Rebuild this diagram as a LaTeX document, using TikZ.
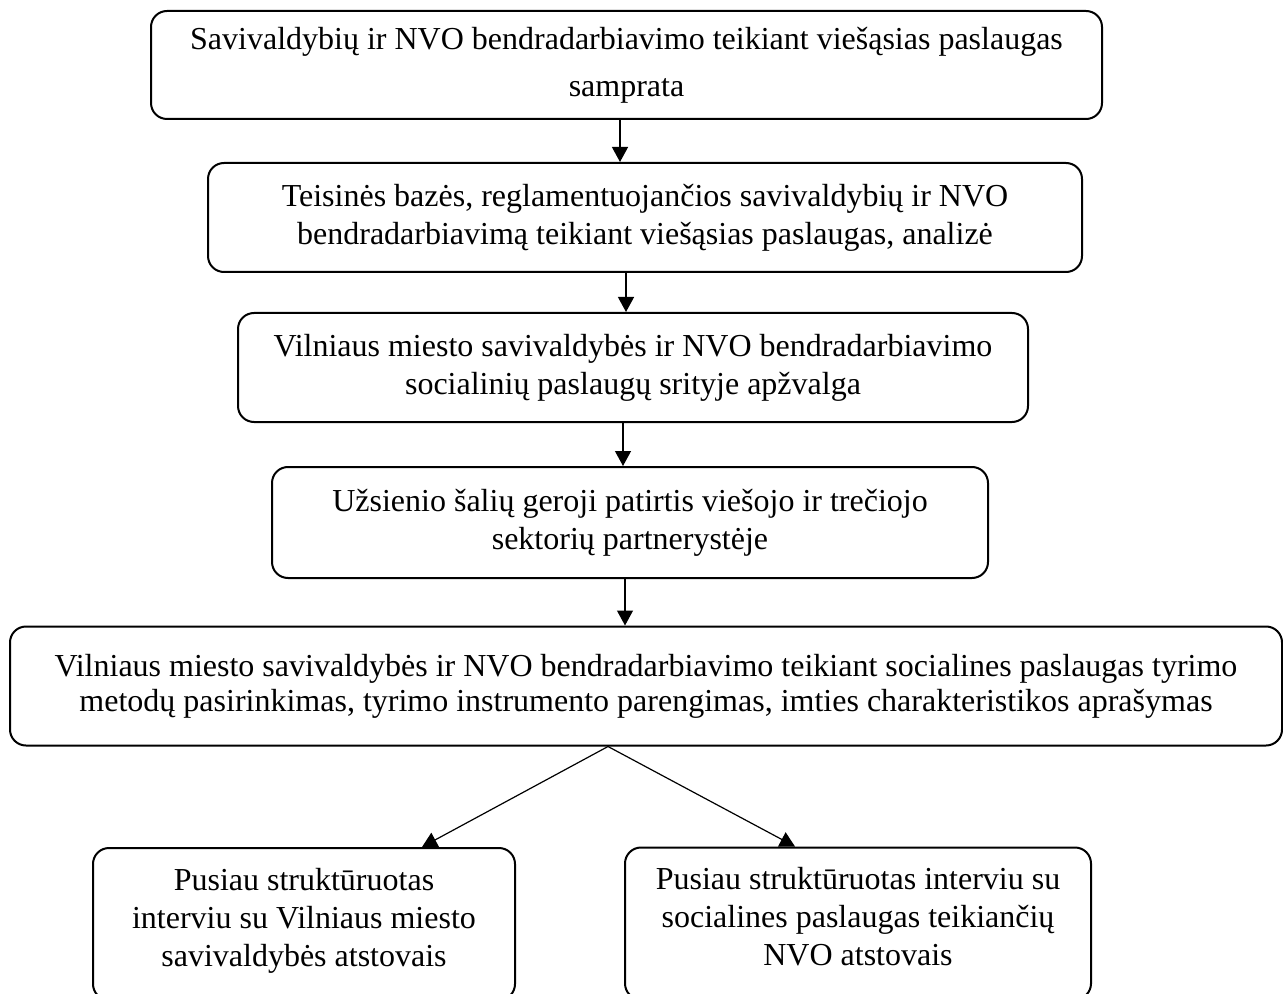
\documentclass[tikz,border=0pt]{standalone}
\usepackage{fontspec}
\setmainfont{Liberation Serif}
\usetikzlibrary{arrows.meta}
\begin{document}
\begin{tikzpicture}[x=0.5pt,y=-0.5pt,
  box/.style={draw,line width=1pt,rounded corners=8pt,align=center,inner sep=0pt,
    font=\fontsize{16}{19}\selectfont},
  arr/.style={line width=0.6pt,-{Triangle[width=8pt,length=7.5pt]}}]
\useasboundingbox (0,0) rectangle (1283,994);
\node[box,minimum width=475.5pt,minimum height=54pt,font=\fontsize{16}{23.5}\selectfont] (b1) at (626.5,65)
  {Savivaldybių ir NVO bendradarbiavimo teikiant viešąsias paslaugas\\samprata};
\node[box,minimum width=437pt,minimum height=54.5pt] (b2) at (645,217.5)
  {Teisinės bazės, reglamentuojančios savivaldybių ir NVO\\bendradarbiavimą teikiant viešąsias paslaugas, analizė};
\node[box,minimum width=395pt,minimum height=54.5pt] (b3) at (633,367.5)
  {Vilniaus miesto savivaldybės ir NVO bendradarbiavimo\\socialinių paslaugų srityje apžvalga};
\node[box,minimum width=358pt,minimum height=55.5pt] (b4) at (630,522.5)
  {Užsienio šalių geroji patirtis viešojo ir trečiojo\\sektorių partnerystėje};
\node[box,minimum width=636pt,minimum height=59.5pt,font=\fontsize{16}{17.5}\selectfont] (b5) at (646,686)
  {Vilniaus miesto savivaldybės ir NVO bendradarbiavimo teikiant socialines paslaugas tyrimo\\metodų pasirinkimas, tyrimo instrumento parengimas, imties charakteristikos aprašymas};
\node[box,minimum width=211pt,minimum height=76pt] (b6) at (304,924)
  {Pusiau struktūruotas\\interviu su Vilniaus miesto\\savivaldybės atstovais\rule[-7pt]{0pt}{7pt}};
\node[box,minimum width=233pt,minimum height=76pt] (b7) at (858,923.5)
  {Pusiau struktūruotas interviu su\\socialines paslaugas teikiančių\\NVO atstovais\rule[-7pt]{0pt}{7pt}};
\coordinate (x1) at (620,0);
\coordinate (x2) at (626,0);
\coordinate (x3) at (623,0);
\coordinate (x4) at (625,0);
\coordinate (xs) at (608,0);
\coordinate (t6) at (422,0);
\coordinate (t7) at (795,0);
\draw[arr] (b1.south -| x1) -- (b2.north -| x1);
\draw[arr] (b2.south -| x2) -- (b3.north -| x2);
\draw[arr] (b3.south -| x3) -- (b4.north -| x3);
\draw[arr] (b4.south -| x4) -- (b5.north -| x4);
\draw[arr] (b5.south -| xs) -- (b6.north -| t6);
\draw[arr] (b5.south -| xs) -- (b7.north -| t7);
\end{tikzpicture}
\end{document}
